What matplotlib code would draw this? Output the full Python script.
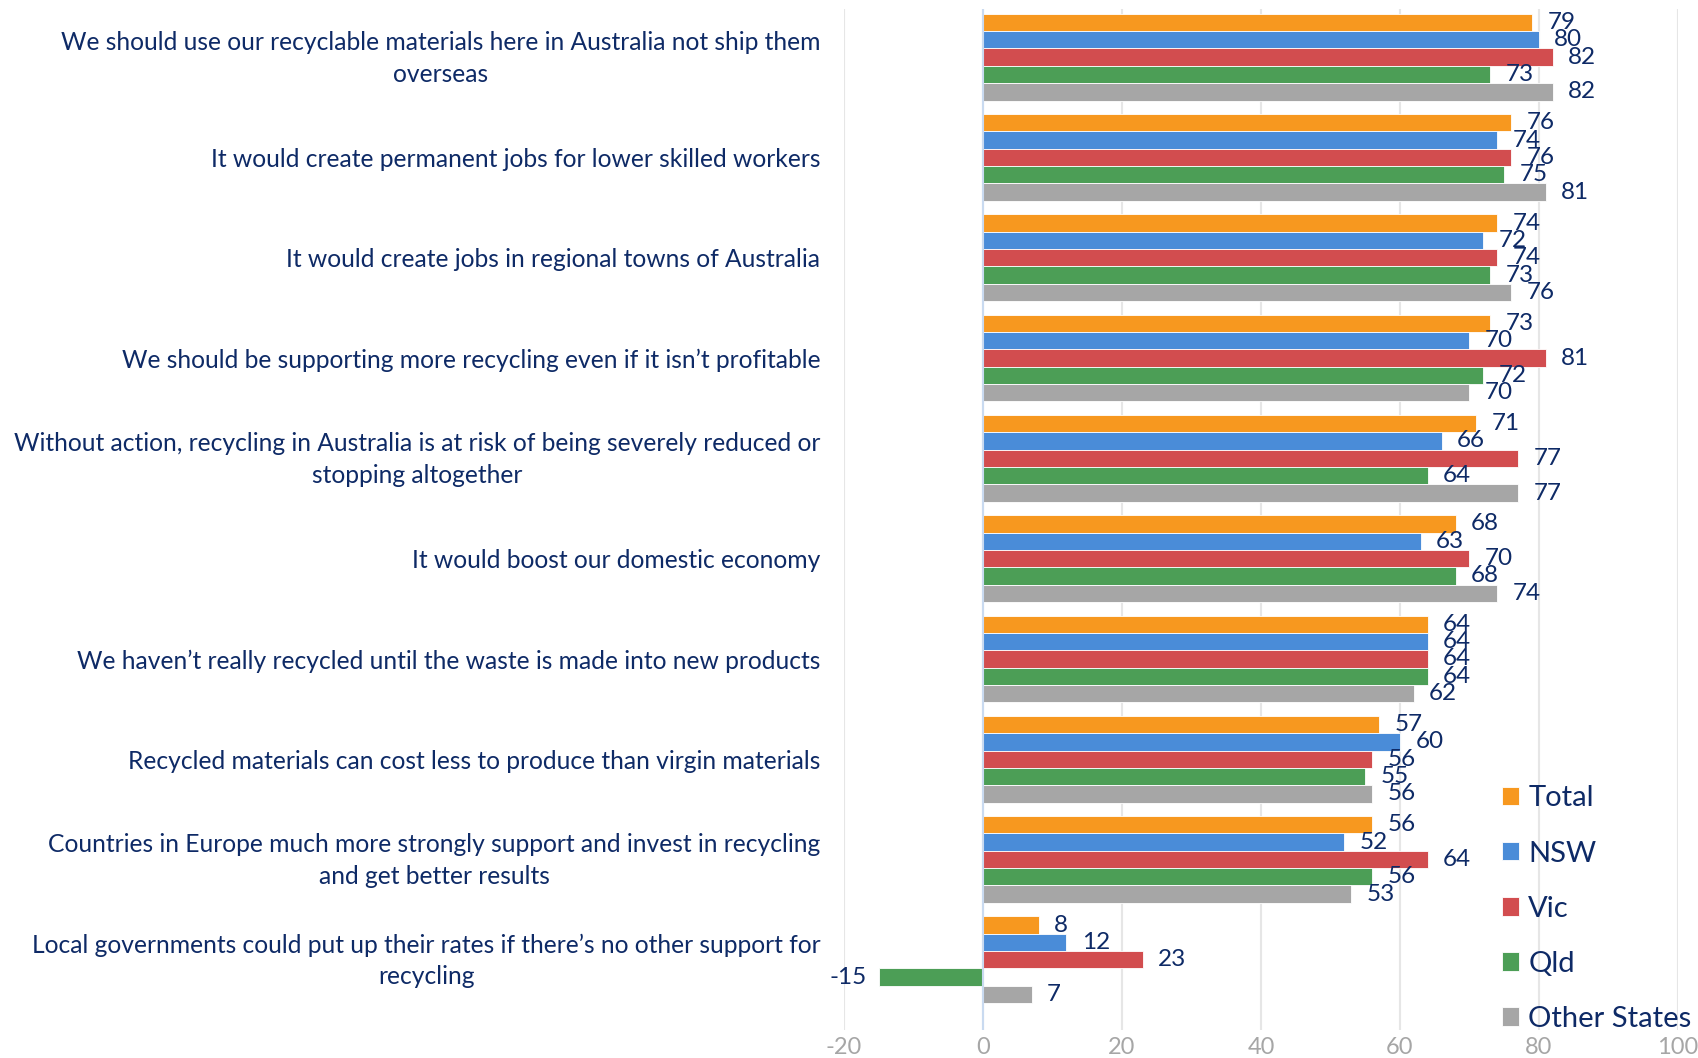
import matplotlib
matplotlib.use("Agg")
import matplotlib.pyplot as plt
import matplotlib.transforms as mtransforms
import numpy as np

plt.rcParams["font.family"] = ["Lato", "DejaVu Sans"]

categories = [
    "We should use our recyclable materials here in Australia not ship them\noverseas",
    "It would create permanent jobs for lower skilled workers",
    "It would create jobs in regional towns of Australia",
    "We should be supporting more recycling even if it isn\u2019t profitable",
    "Without action, recycling in Australia is at risk of being severely reduced or\nstopping altogether",
    "It would boost our domestic economy",
    "We haven\u2019t really recycled until the waste is made into new products",
    "Recycled materials can cost less to produce than virgin materials",
    "Countries in Europe much more strongly support and invest in recycling\nand get better results",
    "Local governments could put up their rates if there\u2019s no other support for\nrecycling",
]
series_names = ["Total", "NSW", "Vic", "Qld", "Other States"]
total = [79, 76, 74, 73, 71, 68, 64, 57, 56, 8]
nsw = [80, 74, 72, 70, 66, 63, 64, 60, 52, 12]
vic = [82, 76, 74, 81, 77, 70, 64, 56, 64, 23]
qld = [73, 75, 73, 72, 64, 68, 64, 55, 56, -15]
other = [82, 81, 76, 70, 77, 74, 62, 56, 53, 7]
x_ticks = [-20, 0, 20, 40, 60, 80, 100]

colors = ["#F7981F", "#4A8CD8", "#D24D4F", "#4C9E56", "#A6A6A6"]
navy = "#0E2A66"

fig = plt.figure(figsize=(16.99, 10.58), dpi=100)
ax = fig.add_axes([0.4968, 0.0265, 0.4908, 0.965])

h = 0.173
y0 = np.arange(len(categories))
for j, (name, vals) in enumerate(zip(series_names, [total, nsw, vic, qld, other])):
    ys = y0 - 2.5 * h + (j + 0.5) * h
    ax.barh(ys, vals, height=h, color=colors[j], edgecolor="white", linewidth=0.6,
            label=name, zorder=3)
    for y, v in zip(ys, vals):
        if v >= 0:
            ax.annotate(str(v), (v, y), xytext=(11, 0), textcoords="offset points",
                        ha="left", va="center", fontsize=17.5, color=navy)
        else:
            ax.annotate(str(v), (v, y), xytext=(-9, 0), textcoords="offset points",
                        ha="right", va="center", fontsize=17.5, color=navy)

ax.set_xlim(-20, 100)
ax.set_ylim(9.70, -0.48)
ax.set_xticks(x_ticks)
ax.set_xticklabels([str(t) for t in x_ticks])
ax.set_yticks(y0)
ax.set_yticklabels(categories, multialignment="center", linespacing=1.45)
ax.tick_params(axis="x", length=0, pad=5, labelsize=17, labelcolor="#A6A6A6")
ax.tick_params(axis="y", length=0, pad=17, labelsize=17.7, labelcolor=navy)

# two-line labels sit a little higher in the original
shift = mtransforms.ScaledTranslation(0, 5 / 100, fig.dpi_scale_trans)
for lbl in ax.get_yticklabels():
    if "\n" in lbl.get_text():
        lbl.set_transform(lbl.get_transform() + shift)

for s in ax.spines.values():
    s.set_visible(False)
ax.grid(axis="x", color="#E6E6E6", linewidth=1.5, zorder=0)
ax.axvline(0, color="#C9DAF0", linewidth=1.5, zorder=4)

leg = fig.legend(loc="upper left", bbox_to_anchor=(0.884, 0.2577), frameon=False,
                 fontsize=21, handlelength=0.6, handleheight=0.6, handletextpad=0.3,
                 labelspacing=1.0, borderpad=0, borderaxespad=0)
for t in leg.get_texts():
    t.set_color(navy)

fig.savefig("out.png", dpi=100)
